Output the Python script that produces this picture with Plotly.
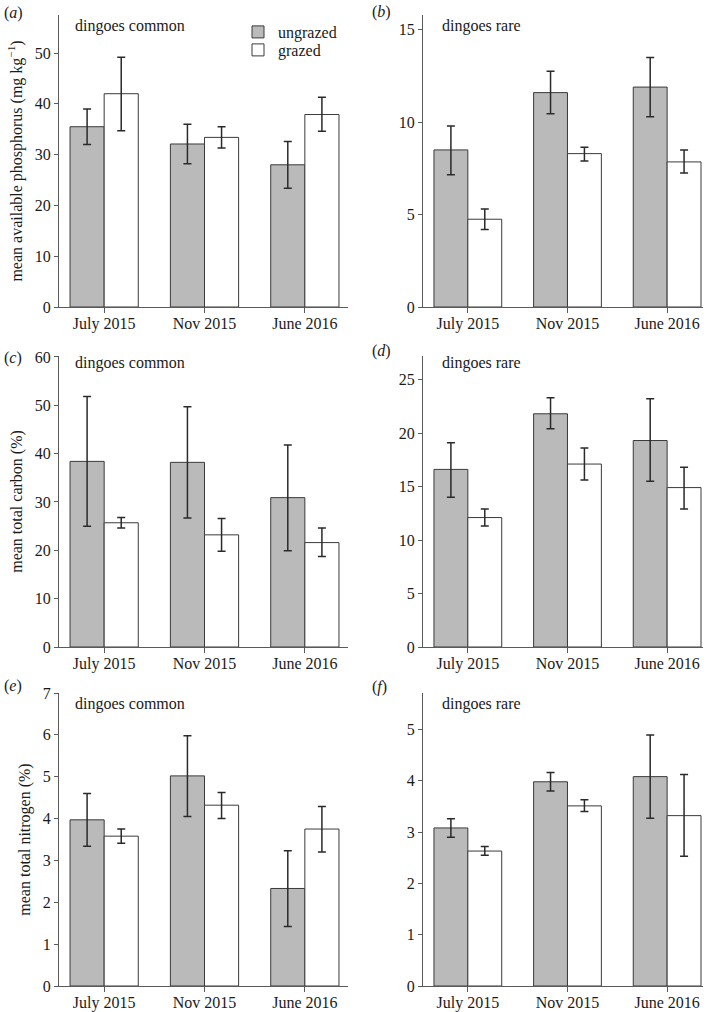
import plotly.graph_objects as go

categories = ["July 2015", "Nov 2015", "June 2016"]

# panel (a) phosphorus, dingoes common
a_ung = [35.5, 32.1, 28.0]
a_ung_lo = [32.0, 28.2, 23.4]
a_ung_hi = [39.0, 36.0, 32.6]
a_gra = [42.0, 33.4, 37.9]
a_gra_lo = [34.7, 31.3, 34.6]
a_gra_hi = [49.2, 35.5, 41.3]

# panel (b) phosphorus, dingoes rare
b_ung = [8.5, 11.6, 11.9]
b_ung_lo = [7.15, 10.45, 10.3]
b_ung_hi = [9.8, 12.75, 13.5]
b_gra = [4.75, 8.3, 7.85]
b_gra_lo = [4.2, 7.9, 7.25]
b_gra_hi = [5.3, 8.65, 8.5]

# panel (c) carbon, dingoes common
c_ung = [38.4, 38.2, 30.9]
c_ung_lo = [25.0, 26.7, 19.9]
c_ung_hi = [51.8, 49.7, 41.8]
c_gra = [25.7, 23.2, 21.6]
c_gra_lo = [24.6, 19.8, 18.7]
c_gra_hi = [26.8, 26.6, 24.6]

# panel (d) carbon, dingoes rare
d_ung = [16.6, 21.8, 19.3]
d_ung_lo = [14.0, 20.4, 15.5]
d_ung_hi = [19.1, 23.3, 23.2]
d_gra = [12.1, 17.1, 14.9]
d_gra_lo = [11.3, 15.6, 12.9]
d_gra_hi = [12.9, 18.6, 16.8]

# panel (e) nitrogen, dingoes common
e_ung = [3.97, 5.02, 2.33]
e_ung_lo = [3.34, 4.05, 1.42]
e_ung_hi = [4.60, 5.98, 3.23]
e_gra = [3.58, 4.32, 3.75]
e_gra_lo = [3.41, 4.00, 3.20]
e_gra_hi = [3.75, 4.62, 4.29]

# panel (f) nitrogen, dingoes rare
f_ung = [3.08, 3.98, 4.08]
f_ung_lo = [2.90, 3.80, 3.27]
f_ung_hi = [3.26, 4.16, 4.89]
f_gra = [2.63, 3.51, 3.32]
f_gra_lo = [2.55, 3.40, 2.53]
f_gra_hi = [2.72, 3.63, 4.12]

panel_labels = ["a", "b", "c", "d", "e", "f"]
panel_notes = ["dingoes common", "dingoes rare"] * 3
y_titles = ["mean available phosphorus (mg kg<sup>−1</sup>)", "mean total carbon (%)", "mean total nitrogen (%)"]
y_ranges = [57.5, 15.8, 60.2, 27.2, 7.0, 5.71]
y_dticks = [10, 5, 10, 5, 1, 1]
series_names = ["ungrazed", "grazed"]

panels = [
    (a_ung, a_ung_lo, a_ung_hi, a_gra, a_gra_lo, a_gra_hi),
    (b_ung, b_ung_lo, b_ung_hi, b_gra, b_gra_lo, b_gra_hi),
    (c_ung, c_ung_lo, c_ung_hi, c_gra, c_gra_lo, c_gra_hi),
    (d_ung, d_ung_lo, d_ung_hi, d_gra, d_gra_lo, d_gra_hi),
    (e_ung, e_ung_lo, e_ung_hi, e_gra, e_gra_lo, e_gra_hi),
    (f_ung, f_ung_lo, f_ung_hi, f_gra, f_gra_lo, f_gra_hi),
]

W, H = 713, 1012
FONT = "Liberation Serif"
AX = "#5a5a5a"
TXT = "#1a1a1a"

# pixel layout
x_left = [(59, 348), (423, 703)]
y_rows = [(15, 307), (356, 647), (693, 986)]
x_ranges = [(-0.45, 2.43), (-0.45, 2.36)]

fig = go.Figure()
fills = ["#bababa", "#ffffff"]
legend_ids = ["legend", "legend2"]

for i, p in enumerate(panels):
    n = i + 1
    xa = "x" if n == 1 else f"x{n}"
    ya = "y" if n == 1 else f"y{n}"
    for s in range(2):
        vals, lo, hi = p[3 * s], p[3 * s + 1], p[3 * s + 2]
        plus = [h - v for h, v in zip(hi, vals)]
        minus = [v - l for v, l in zip(vals, lo)]
        fig.add_trace(go.Bar(
            x=categories, y=vals, name=series_names[s],
            xaxis=xa, yaxis=ya, offsetgroup=str(s), legendgroup=series_names[s],
            legend=legend_ids[s],
            showlegend=(n == 1), cliponaxis=False,
            marker=dict(color=fills[s], line=dict(color="#3a3a3a", width=1)),
            error_y=dict(type="data", array=plus, arrayminus=minus, symmetric=False,
                         color="#2a2a2a", thickness=1.5, width=4),
        ))

leg_common = dict(xanchor="left", yanchor="middle", font=dict(family=FONT, size=16, color=TXT),
                  bgcolor="rgba(0,0,0,0)", itemwidth=30, tracegroupgap=0)

layout = dict(
    width=W, height=H, margin=dict(l=0, r=0, t=0, b=0, autoexpand=False),
    paper_bgcolor="white", plot_bgcolor="white",
    barmode="group", bargap=0.32, bargroupgap=0,
    font=dict(family=FONT, size=16, color=TXT),
    legend=dict(x=238 / W, y=1 - 32 / H, **leg_common),
    legend2=dict(x=238 / W, y=1 - 50 / H, **leg_common),
    annotations=[],
)

for i in range(6):
    n = i + 1
    col = i % 2
    row = i // 2
    xk = "xaxis" if n == 1 else f"xaxis{n}"
    yk = "yaxis" if n == 1 else f"yaxis{n}"
    xd = (x_left[col][0] / W, x_left[col][1] / W)
    yd = (1 - y_rows[row][1] / H, 1 - y_rows[row][0] / H)
    layout[xk] = dict(
        domain=list(xd), anchor="y" if n == 1 else f"y{n}", automargin=False,
        range=list(x_ranges[col]), showline=True, linecolor=AX, linewidth=1.2,
        ticks="outside", ticklen=5, tickcolor=AX, tickwidth=1.2,
        ticklabelstandoff=-3,
        showgrid=False, zeroline=False, tickfont=dict(size=16, color=TXT, family=FONT),
        fixedrange=True,
    )
    ydict = dict(
        domain=list(yd), anchor="x" if n == 1 else f"x{n}", automargin=False,
        range=[0, y_ranges[i]], dtick=y_dticks[i], tick0=0,
        showline=True, linecolor=AX, linewidth=1.2,
        ticks="outside", ticklen=4, tickcolor=AX, tickwidth=1.2,
        showgrid=False, zeroline=False, tickfont=dict(size=16, color=TXT, family=FONT),
        fixedrange=True,
    )
    if col == 0:
        ydict["title"] = dict(text=y_titles[row], font=dict(size=16, color=TXT, family=FONT), standoff=8)
    layout[yk] = ydict
    # panel label
    lx = 2 if col == 0 else 370
    ly = [13, 358, 686][row] if col == 0 else [12, 351, 687][row]
    layout["annotations"].append(dict(
        text=f"(<i>{panel_labels[i]}</i>)", x=lx / W, y=1 - ly / H, xref="paper", yref="paper",
        xanchor="left", yanchor="middle", showarrow=False, font=dict(size=16, color=TXT, family=FONT)))
    # panel note
    nx = 73 if col == 0 else 440
    ny = [26, 363, 704][row]
    layout["annotations"].append(dict(
        text=panel_notes[i], x=nx / W, y=1 - ny / H, xref="paper", yref="paper",
        xanchor="left", yanchor="middle", showarrow=False, font=dict(size=16, color=TXT, family=FONT)))

fig.update_layout(**layout)
fig.write_html("out.html", config={"displayModeBar": False},
               post_script="document.body.style.margin='0px';document.body.style.padding='0px';")
